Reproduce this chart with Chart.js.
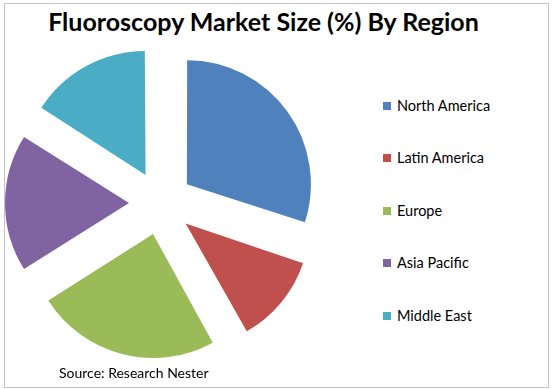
<!DOCTYPE html>
<html>
<head>
<meta charset="utf-8">
<script src="https://cdn.jsdelivr.net/npm/chart.js@4.4.1/dist/chart.umd.min.js"></script>
<style>
  body { margin: 0; background: #fff; }
  #wrap { position: relative; width: 555px; height: 389px; overflow: hidden; font-family: Lato, sans-serif; color: #000; }
  #frame { position: absolute; left: 4px; top: 3px; width: 545px; height: 385px; box-sizing: border-box; border: 1px solid #c3c3c3; }
  #title { position: absolute; left: 0; top: 9px; width: 527px; text-align: center; font-weight: bold; font-size: 25px; line-height: 25px; white-space: nowrap; }
  #pie { position: absolute; left: 0; top: 40px; }
  .item { position: absolute; left: 383px; white-space: nowrap; font-size: 14.5px; line-height: 14px; padding-left: 14px; }
  .box { position: absolute; left: 0; top: 3px; width: 8px; height: 8px; }
  #source { position: absolute; left: 59px; top: 366px; font-size: 14px; line-height: 14px; white-space: nowrap; }
</style>
</head>
<body>
<div id="wrap">
  <div id="frame"></div>
  <div id="title">Fluoroscopy Market Size (%) By Region</div>
  <canvas id="pie" width="322" height="326"></canvas>
  <div id="legend"></div>
  <div id="source">Source: Research Nester</div>
</div>
<script>
const regions = ['North America', 'Latin America', 'Europe', 'Asia Pacific', 'Middle East'];
const shares = [30, 12, 24, 18, 16];
const colors = ['#4F81BD', '#C0504D', '#9BBB59', '#8064A2', '#4BACC6'];

const R = 124;
const OFFSET = 128; // chart.js moves a slice by offset / 4

// chart.js grows narrow slices when they are offset, keep every slice at the same radius
const keepRadius = {
	id: 'keepRadius',
	beforeDatasetDraw(chart) {
		chart.getDatasetMeta(0).data.forEach((arc) => {
			const fix = 1 - Math.sin(Math.min(Math.PI, arc.circumference));
			arc.outerRadius = R - OFFSET / 4 * fix;
		});
	}
};

new Chart(document.getElementById('pie'), {
	type: 'pie',
	data: {
		labels: regions,
		datasets: [{
			data: shares,
			backgroundColor: colors,
			borderWidth: 0,
			offset: OFFSET
		}]
	},
	options: {
		responsive: false,
		animation: false,
		radius: R,
		layout: { padding: 0 },
		plugins: {
			legend: { display: false },
			tooltip: { enabled: false }
		}
	},
	plugins: [keepRadius]
});

const legend = document.getElementById('legend');
regions.forEach((name, i) => {
	const item = document.createElement('div');
	item.className = 'item';
	item.style.top = (106.5 + i * 52.4 - 7.5) + 'px';
	item.innerHTML = '<span class="box" style="background:' + colors[i] + '"></span>' + name;
	legend.appendChild(item);
});
</script>
</body>
</html>
